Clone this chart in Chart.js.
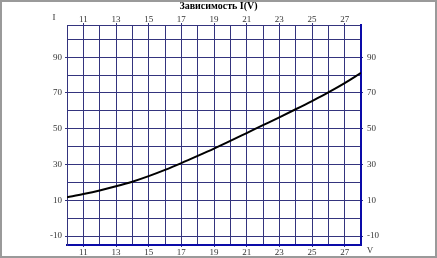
<!DOCTYPE html>
<html>
<head>
<meta charset="utf-8">
<script src="https://cdn.jsdelivr.net/npm/chart.js@4"></script>
<style>
  html, body { margin: 0; padding: 0; background: #fff; }
  #wrap { position: relative; width: 437px; height: 258px; }
  #frame { position: absolute; left: 0; top: 0; width: 437px; height: 258px; box-sizing: border-box;
           border: 2px solid #9a9a9a; pointer-events: none; }
</style>
</head>
<body>
<div id="wrap">
  <canvas id="chart" width="437" height="258"></canvas>
  <div id="frame"></div>
</div>
<script>
// voltage V (x) and current I (y)
const vValues = [10, 11, 12, 13, 14, 15, 16, 17, 18, 19, 20, 21, 22, 23, 24, 25, 26, 27, 28];
const iValues = [11.7, 13.5, 15.5, 17.8, 20.4, 23.5, 27.0, 30.8, 34.8, 38.9, 43.2, 47.6, 52.0, 56.4, 60.9, 65.5, 70.3, 75.5, 81.2];

const xTickLabels = [11, 13, 15, 17, 19, 21, 23, 25, 27];
const yGridValues = [-10, 0, 10, 20, 30, 40, 50, 60, 70, 80, 90, 100];
const yTickLabels = [90, 70, 50, 30, 10, -10];

const gridNavy = "#34347e";
const axisBlue = "#0a0aa8";
const tickFont = { family: "'Liberation Serif', 'Times New Roman', serif", size: 9 };

const xLabel = v => xTickLabels.includes(v) ? String(v) : "";
const yLabel = v => yTickLabels.includes(v) ? String(v) : "";
const xTickColor = c => (c.tick && xTickLabels.includes(c.tick.value)) ? gridNavy : "rgba(0,0,0,0)";
const yTickColor = c => (c.tick && yTickLabels.includes(c.tick.value)) ? gridNavy : "rgba(0,0,0,0)";
const setYTicks = s => { s.ticks = yGridValues.map(v => ({ value: v })); };

// small axis names "I" and "V" next to the plot corners
const axisNames = {
    id: "axisNames",
    afterDraw(chart) {
        const { ctx, chartArea } = chart;
        ctx.save();
        ctx.font = "9px 'Liberation Serif', serif";
        ctx.fillStyle = "#333";
        ctx.textAlign = "center";
        ctx.textBaseline = "middle";
        ctx.fillText("I", chartArea.left - 13, chartArea.top - 7);
        ctx.fillText("V", chartArea.right + 9, chartArea.bottom + 6);
        ctx.restore();
    }
};

new Chart(document.getElementById("chart").getContext("2d"), {
    type: "line",
    data: {
        datasets: [{
            label: "I(V)",
            data: vValues.map((v, i) => ({ x: v, y: iValues[i] })),
            borderColor: "#000",
            borderWidth: 2,
            pointRadius: 0,
            cubicInterpolationMode: "monotone",
            fill: false
        }]
    },
    options: {
        responsive: false,
        devicePixelRatio: 1,
        animation: false,
        layout: { padding: 0 },
        plugins: {
            legend: { display: false },
            tooltip: { enabled: false },
            title: {
                display: true,
                text: "Зависимость I(V)",
                color: "#000",
                font: { family: "'Liberation Serif', 'Times New Roman', serif", size: 10, weight: "bold", lineHeight: 1.2 },
                padding: { top: 0, bottom: 0 }
            }
        },
        scales: {
            x: {
                type: "linear", position: "bottom", min: 10, max: 28,
                afterFit: s => { s.height = 13; },
                ticks: { stepSize: 1, autoSkip: false, maxRotation: 0, padding: 0, callback: xLabel, color: "#333", font: tickFont },
                grid: { color: gridNavy, lineWidth: 1, tickLength: 2, tickColor: xTickColor },
                border: { color: axisBlue, width: 2 }
            },
            x2: {
                type: "linear", position: "top", min: 10, max: 28,
                afterFit: s => { s.height = 13; },
                ticks: { stepSize: 1, autoSkip: false, maxRotation: 0, padding: -2, callback: xLabel, color: "#333", font: tickFont },
                grid: { drawOnChartArea: false, tickLength: 2, tickColor: xTickColor },
                border: { color: gridNavy, width: 1 }
            },
            y: {
                type: "linear", position: "left", min: -15, max: 108,
                afterBuildTicks: setYTicks,
                afterFit: s => { s.width = 67; },
                ticks: { autoSkip: false, padding: 3, callback: yLabel, color: "#333", font: tickFont },
                grid: { color: gridNavy, lineWidth: 1, tickLength: 2, tickColor: yTickColor },
                border: { color: gridNavy, width: 1 }
            },
            y2: {
                type: "linear", position: "right", min: -15, max: 108,
                afterBuildTicks: setYTicks,
                afterFit: s => { s.width = 76; },
                ticks: { autoSkip: false, padding: 4, callback: yLabel, color: "#333", font: tickFont },
                grid: { drawOnChartArea: false, tickLength: 2, tickColor: yTickColor },
                border: { color: axisBlue, width: 2 }
            }
        }
    },
    plugins: [axisNames]
});
</script>
</body>
</html>
